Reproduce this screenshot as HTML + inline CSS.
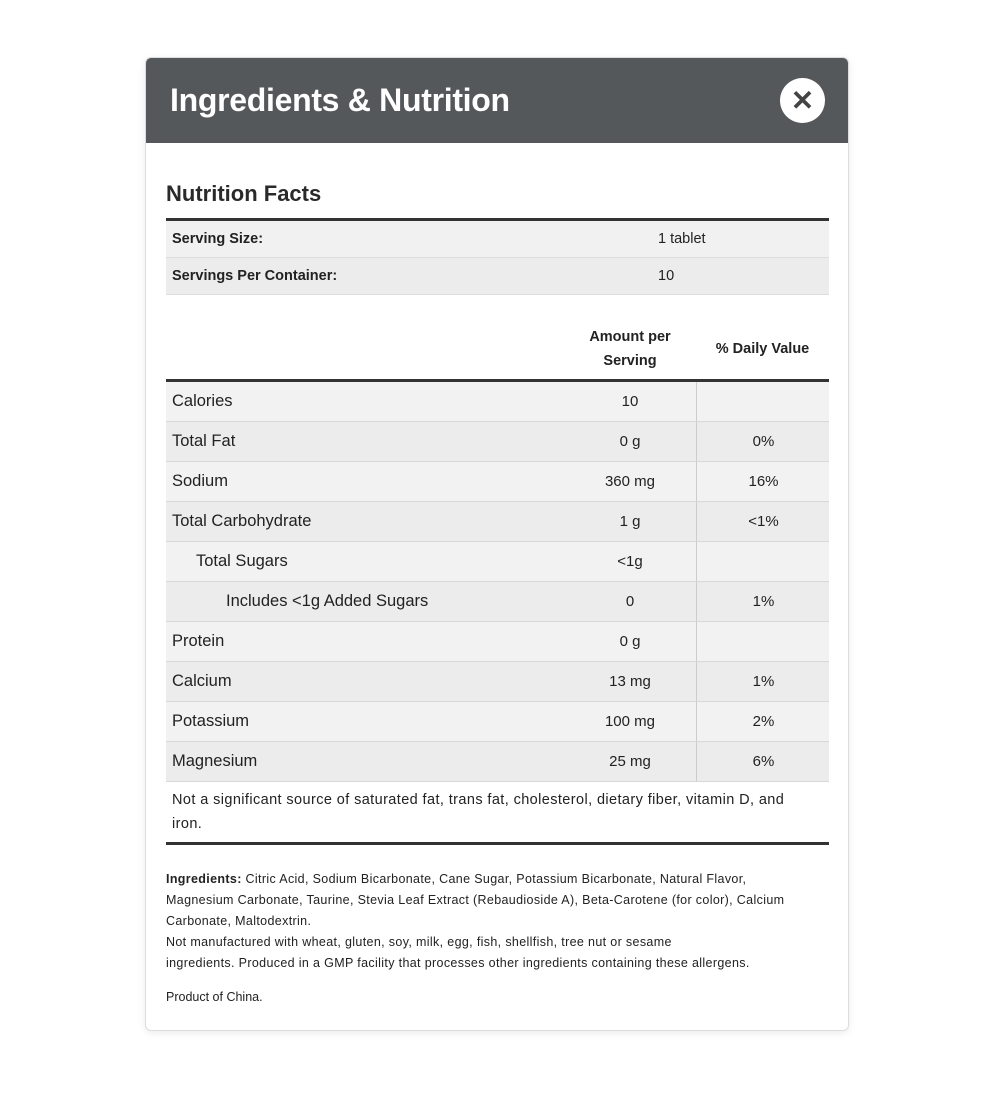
<!DOCTYPE html>
<html><head><style>
body{margin:0;background:#fff;width:1000px;height:1118px;font-family:"Liberation Sans",sans-serif;color:#222;position:relative}
.modal{position:absolute;left:145px;top:57px;width:702px;height:972px;border:1px solid #ddd;border-radius:6px;box-shadow:0 2px 8px rgba(0,0,0,.08);overflow:hidden;background:#fff}
.hdr{height:85px;background:#55585a;position:relative}
.hdr h1{margin:0;position:absolute;left:24px;top:24px;font-size:32px;color:#fff;font-weight:bold;letter-spacing:-0.3px}
.close{position:absolute;left:634px;top:20px;width:45px;height:45px;border-radius:50%;background:#fff;color:#444;font-size:28px;font-weight:bold;text-align:center;line-height:45px}
.c{position:absolute;left:20px;width:663px}
.abs{position:absolute}
.row{position:absolute;left:0;width:663px;height:39px;border-bottom:1px solid #d8d8d8;font-size:16.5px;line-height:39px}
.row span{position:absolute}
.a{left:430px;width:68px;text-align:center;font-size:15px}
.d{left:530px;width:133px;text-align:center;font-size:15px;border-left:1px solid #ccc;height:39px}
</style></head><body>
<div class="modal">
<div class="hdr"><h1>Ingredients &amp; Nutrition</h1><div class="close">✕</div></div>
<div class="c" style="top:85px">
<div class="abs" style="top:38px;left:0;font-size:22px;font-weight:bold;color:#2a2a2a">Nutrition Facts</div>
<div class="abs" style="top:75px;left:0;width:663px;height:3px;background:#333"></div>
<div class="abs" style="top:78px;left:0;width:663px;height:36px;background:#f1f1f1;border-bottom:1px solid #ddd;font-size:14.5px;line-height:36px"><b style="position:absolute;left:6px">Serving Size:</b><span style="position:absolute;left:492px">1 tablet</span></div>
<div class="abs" style="top:115px;left:0;width:663px;height:36px;background:#ececec;border-bottom:1px solid #ddd;font-size:14.5px;line-height:36px"><b style="position:absolute;left:6px">Servings Per Container:</b><span style="position:absolute;left:492px">10</span></div>
<div class="abs" style="top:182px;left:410px;width:108px;text-align:center;font-size:14.5px;font-weight:bold;line-height:24px">Amount per Serving</div>
<div class="abs" style="top:194px;left:530px;width:133px;text-align:center;font-size:14.5px;font-weight:bold;line-height:24px">% Daily Value</div>
<div class="abs" style="top:236px;left:0;width:663px;height:3px;background:#333"></div>
<div class="abs" style="top:239px;left:0">
<div class="row" style="top:0;background:#f2f2f2"><span style="left:6px">Calories</span><span class="a">10</span><span class="d"></span></div>
<div class="row" style="top:40px;background:#ececec"><span style="left:6px">Total Fat</span><span class="a">0 g</span><span class="d">0%</span></div>
<div class="row" style="top:80px;background:#f2f2f2"><span style="left:6px">Sodium</span><span class="a">360 mg</span><span class="d">16%</span></div>
<div class="row" style="top:120px;background:#ececec"><span style="left:6px">Total Carbohydrate</span><span class="a">1 g</span><span class="d">&lt;1%</span></div>
<div class="row" style="top:160px;background:#f2f2f2"><span style="left:30px">Total Sugars</span><span class="a">&lt;1g</span><span class="d"></span></div>
<div class="row" style="top:200px;background:#ececec"><span style="left:60px">Includes &lt;1g Added Sugars</span><span class="a">0</span><span class="d">1%</span></div>
<div class="row" style="top:240px;background:#f2f2f2"><span style="left:6px">Protein</span><span class="a">0 g</span><span class="d"></span></div>
<div class="row" style="top:280px;background:#ececec"><span style="left:6px">Calcium</span><span class="a">13 mg</span><span class="d">1%</span></div>
<div class="row" style="top:320px;background:#f2f2f2"><span style="left:6px">Potassium</span><span class="a">100 mg</span><span class="d">2%</span></div>
<div class="row" style="top:360px;background:#ececec"><span style="left:6px">Magnesium</span><span class="a">25 mg</span><span class="d">6%</span></div>
</div>
<div class="abs" style="top:645px;left:6px;width:680px;font-size:14.5px;letter-spacing:0.4px;line-height:24px;white-space:nowrap">Not a significant source of saturated fat, trans fat, cholesterol, dietary fiber, vitamin D, and<br>iron.</div>
<div class="abs" style="top:699px;left:0;width:663px;height:3px;background:#333"></div>
<div class="abs" style="top:726px;left:0;width:680px;font-size:12.5px;letter-spacing:0.35px;line-height:21px;white-space:nowrap"><b>Ingredients:</b> Citric Acid, Sodium Bicarbonate, Cane Sugar, Potassium Bicarbonate, Natural Flavor,<br>Magnesium Carbonate, Taurine, Stevia Leaf Extract (Rebaudioside A), Beta-Carotene (for color), Calcium<br>Carbonate, Maltodextrin.<br>Not manufactured with wheat, gluten, soy, milk, egg, fish, shellfish, tree nut or sesame<br>ingredients. Produced in a GMP facility that processes other ingredients containing these allergens.</div>
<div class="abs" style="top:847px;left:0;font-size:12.5px">Product of China.</div>
</div>
</div>
</body></html>
